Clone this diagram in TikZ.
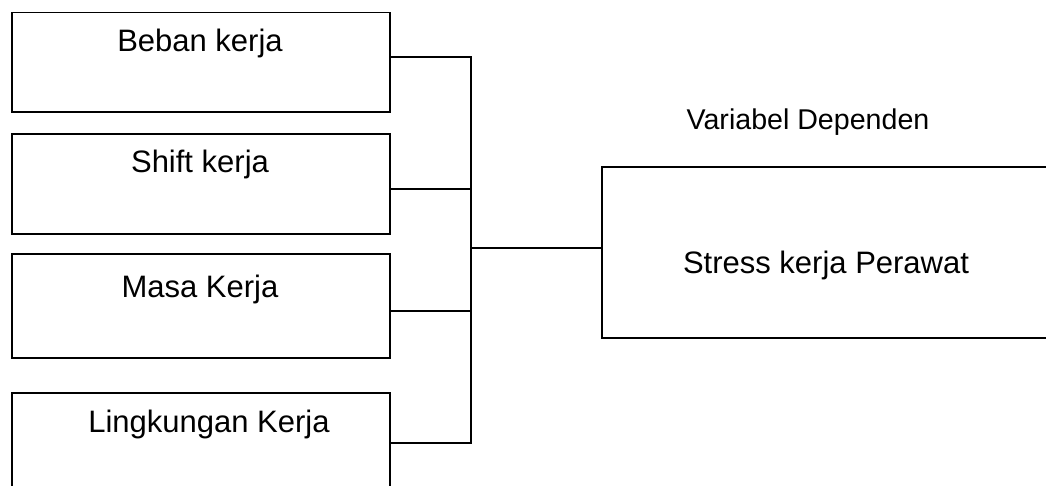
\documentclass[tikz,border=0pt]{standalone}
\usepackage{fontspec}
\setmainfont{Liberation Sans}
\begin{document}
\begin{tikzpicture}[x=1pt,y=-1pt,
  box/.style={draw,line width=1.6pt,rectangle,inner sep=0pt,anchor=north west,
    minimum width=378pt,minimum height=99.5pt},
  conn/.style={line width=1.6pt},
  lbl/.style={anchor=base,inner sep=0pt,font=\fontsize{31}{36}\selectfont},
  small/.style={anchor=base,inner sep=0pt,font=\fontsize{28.6}{33}\selectfont}]
\useasboundingbox (0,0) rectangle (1046,485);
\clip (0,0) rectangle (1046,485);
\node[box] (b1) at (11,11.5) {};
\node[box,minimum height=100pt] (b2) at (11,133) {};
\node[box,minimum height=104pt] (b3) at (11,253) {};
\node[box,minimum height=100pt] (b4) at (11,392) {};
\node[box,minimum width=470pt,minimum height=171pt] (r) at (601,166) {};
\node[lbl] (t1) at (200,51) {Beban kerja};
\node[lbl] (t2) at (200,172) {Shift kerja};
\node[lbl] (t3) at (200,297) {Masa Kerja};
\node[lbl] (t4) at (209,432) {Lingkungan Kerja};
\node[lbl] (t5) at (826,273) {Stress kerja Perawat};
\node[small] (vd) at (808,129) {Variabel Dependen};
\coordinate (jm) at (471,248);
\draw[conn] ([yshift=5pt]b1.east) -| (jm);
\draw[conn] ([yshift=-5pt]b2.east) -| (jm);
\draw[conn] ([yshift=-5pt]b3.east) -| (jm);
\draw[conn] (b4.east) -| (jm);
\draw[conn] (jm) -- (jm -| r.west);
\end{tikzpicture}
\end{document}
